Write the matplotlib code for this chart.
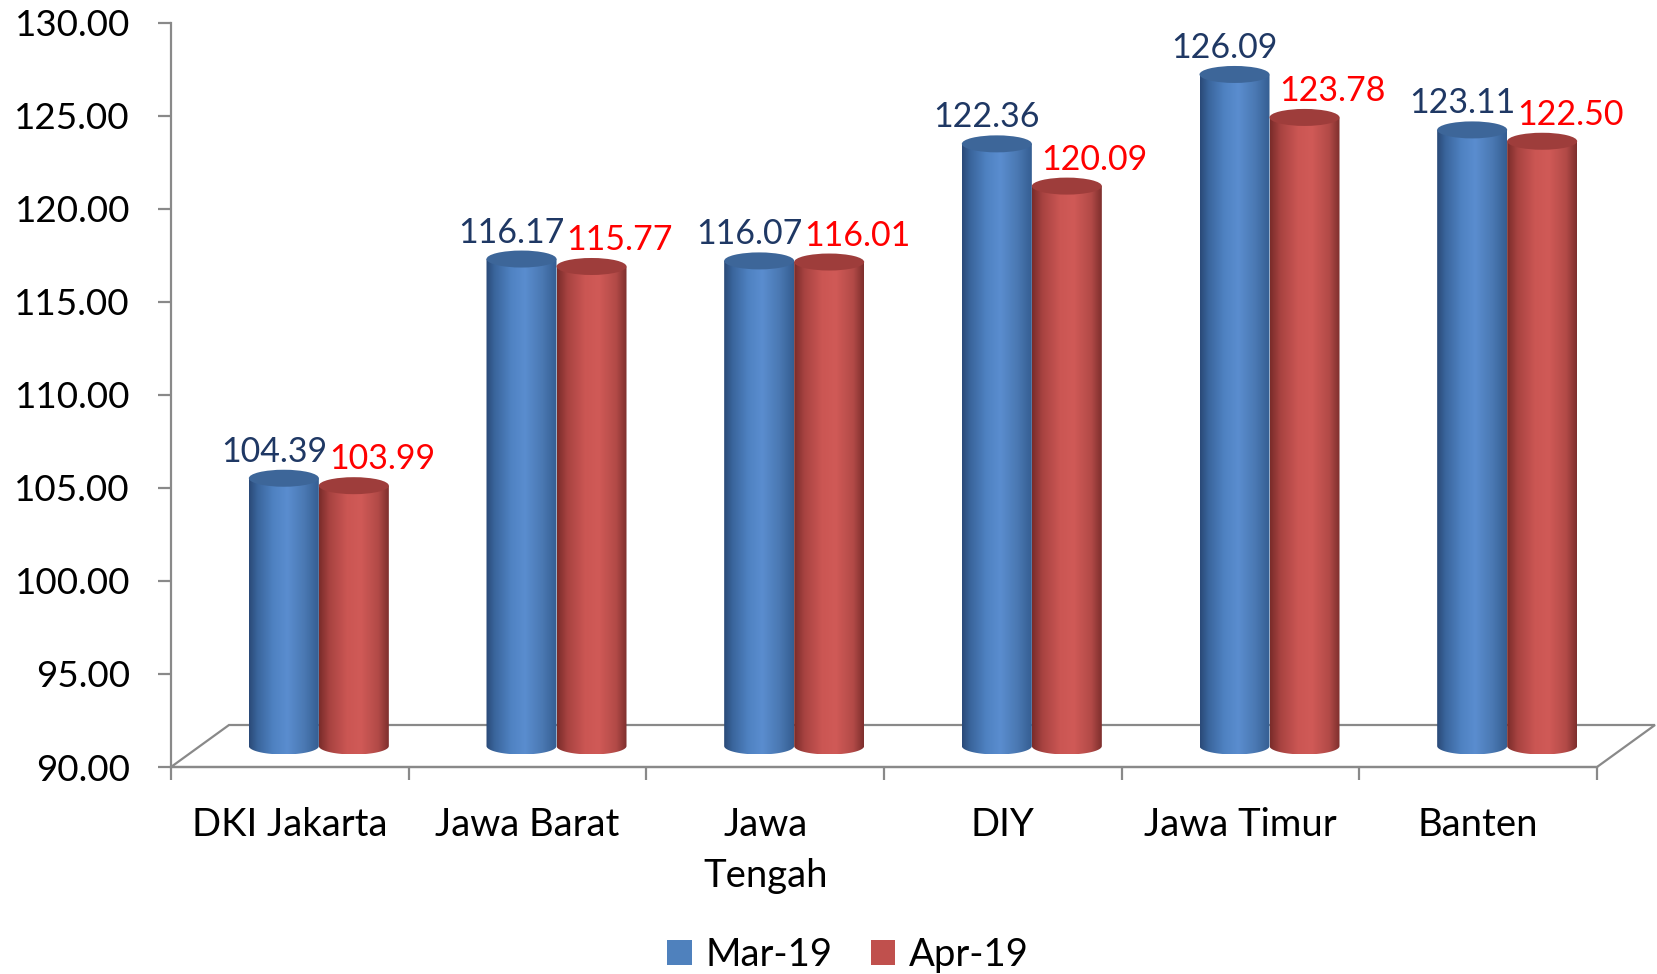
import numpy as np
import matplotlib.pyplot as plt
from matplotlib.patches import Ellipse, PathPatch, Polygon, Patch
from matplotlib.path import Path
from matplotlib.colors import LinearSegmentedColormap
import matplotlib.transforms as mtransforms

# Data
regions = ['DKI Jakarta', 'Jawa Barat', 'Jawa\nTengah', 'DIY', 'Jawa Timur', 'Banten']
mar19 = [104.39, 116.17, 116.07, 122.36, 126.09, 123.11]
apr19 = [103.99, 115.77, 116.01, 120.09, 123.78, 122.50]
series_names = ['Mar-19', 'Apr-19']
yticks = np.arange(90, 131, 5)

plt.rcParams['font.family'] = ['Lato', 'DejaVu Sans']

W, H = 1657, 974
fig = plt.figure(figsize=(W / 100, H / 100), dpi=100)
fig.patch.set_facecolor('white')

# plot box in pixels (from top)
px0, px1, py0, py1 = 171, 1597, 22.7, 767
ax = fig.add_axes([px0 / W, 1 - py1 / H, (px1 - px0) / W, (py1 - py0) / H])
ax.set_xlim(0, 6)
ax.set_ylim(90, 130)

ppx = (px1 - px0) / 6   # pixels per category
ppy = (py1 - py0) / 40  # pixels per unit
depth_x, depth_y = 58 / ppx, 42 / ppy   # floor depth in data units
hw = 35 / ppx     # half bar width
eh = 8.5 / ppy    # ellipse half height

axis_col = '#898989'

# floor
floor = Polygon([(0, 90), (6, 90), (6 + depth_x, 90 + depth_y), (depth_x, 90 + depth_y)],
                closed=True, fill=False, edgecolor=axis_col, lw=1.6, clip_on=False, zorder=1)
ax.add_patch(floor)

blue_cmap = LinearSegmentedColormap.from_list('b', [
    (0.0, '#2a4a78'), (0.12, '#3a659c'), (0.35, '#4f82c2'),
    (0.55, '#5a8dcf'), (0.8, '#4a78b2'), (1.0, '#355e92')])
red_cmap = LinearSegmentedColormap.from_list('r', [
    (0.0, '#7a2c2a'), (0.15, '#a84341'), (0.4, '#cb5653'),
    (0.6, '#d05a57'), (0.85, '#b24a47'), (1.0, '#7e2f2d')])
grad = np.linspace(0, 1, 200).reshape(1, -1)


def cylinder(cx, val, cmap, top_col, z):
    yb = 90 + depth_y / 2
    yt = val + depth_y / 2
    t = np.linspace(np.pi, 2 * np.pi, 60)
    verts = [(cx - hw, yt), (cx - hw, yb)]
    verts += list(zip(cx + hw * np.cos(t), yb + eh * np.sin(t)))
    verts += [(cx + hw, yt), (cx - hw, yt)]
    codes = [Path.MOVETO] + [Path.LINETO] * (len(verts) - 2) + [Path.CLOSEPOLY]
    body = PathPatch(Path(verts, codes), facecolor='none', edgecolor='none',
                     clip_on=False, zorder=z)
    ax.add_patch(body)
    im = ax.imshow(grad, cmap=cmap, aspect='auto', interpolation='bilinear',
                   extent=[cx - hw, cx + hw, yb - eh, yt], zorder=z)
    im.set_clip_path(body)
    cap = Ellipse((cx, yt), 2 * hw, 2 * eh, facecolor=top_col, edgecolor='none',
                  clip_on=False, zorder=z + 0.1)
    ax.add_patch(cap)
    return yt + eh


for i in range(len(regions)):
    cb = i + 0.5 + depth_x / 2 - hw
    cr = i + 0.5 + depth_x / 2 + hw
    topb = cylinder(cb, mar19[i], blue_cmap, '#3d6699', 3 + i)
    topr = cylinder(cr, apr19[i], red_cmap, '#9e3d3b', 3.5 + i)
    lab_off = 18 / ppy
    ax.text(cb - 10 / ppx, topb + lab_off, f'{mar19[i]:.2f}', color='#1F3864',
            fontsize=24.5, ha='center', va='center', zorder=20)
    ax.text(cr + 28 / ppx, topr + lab_off, f'{apr19[i]:.2f}', color='#FF0000',
            fontsize=24.5, ha='center', va='center', zorder=20)

# axes styling
for s in ['top', 'right']:
    ax.spines[s].set_visible(False)
for s in ['left', 'bottom']:
    ax.spines[s].set_color(axis_col)
    ax.spines[s].set_linewidth(1.6)
ax.set_yticks(yticks)
ax.set_yticklabels([f'{v:.2f}' for v in yticks])
ax.set_xticks(np.arange(0, 7))
ax.set_xticklabels([])
ax.tick_params(axis='y', length=9.5, width=1.6, color=axis_col, labelsize=26.5, pad=20)
ax.tick_params(axis='x', length=9.5, width=1.6, color=axis_col)

lab_tr = mtransforms.offset_copy(ax.transData, fig=fig, x=0, y=-40, units='dots')
for i, r in enumerate(regions):
    ax.text(i + 0.5, 90, r, transform=lab_tr, ha='center', va='top',
            fontsize=27.5, linespacing=1.5)

handles = [Patch(facecolor='#4F81BD'), Patch(facecolor='#C0504D')]
fig.legend(handles, series_names, loc='center', bbox_to_anchor=(848 / W, 1 - 955 / H),
           ncol=2, frameon=False, fontsize=27.5, handlelength=0.65, handleheight=0.65,
           handletextpad=0.35, columnspacing=1.0)

fig.savefig('out.png', dpi=100, facecolor='white')
